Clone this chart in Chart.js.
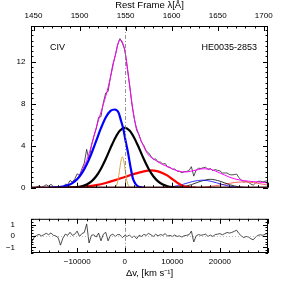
<!DOCTYPE html>
<html>
<head>
<meta charset="utf-8">
<script src="https://cdn.jsdelivr.net/npm/chart.js@4"></script>
<style>
  html, body { margin: 0; padding: 0; background: #fff; }
  #wrap { position: relative; width: 283px; height: 283px; }
  canvas { position: absolute; left: 0; }
  #top { top: 0; }
  #bot { top: 198px; }
</style>
</head>
<body>
<div id="wrap">
  <canvas id="top" width="283" height="198"></canvas>
  <canvas id="bot" width="283" height="85"></canvas>
</div>
<script>
// axis ranges
const vMin = -19700, vMax = 30100;
const fluxMax = 15.4;
const resMin = -1.5, resMax = 1.5;
const lambda0 = 1549.06;
const cKms = 299792.458;
const lineName = 'CIV';
const objectName = 'HE0035-2853';

// tick labels
const waveTicks = [1450, 1500, 1550, 1600, 1650, 1700];
const velTicks = [-10000, 0, 10000, 20000];
const fluxTicks = [0, 4, 8, 12];
const resTicks = [-1, 0, 1];

// observed spectrum and residuals (km/s grid, step 500)
const specV = [-20000,-19500,-19000,-18500,-18000,-17500,-17000,-16500,-16000,-15500,
  -15000,-14500,-14000,-13500,-13000,-12500,-12000,-11500,-11000,-10500,
  -10000,-9500,-9000,-8500,-8000,-7500,-7000,-6500,-6000,-5500,
  -5000,-4500,-4000,-3500,-3000,-2500,-2000,-1500,-1000,-500,
  0,500,1000,1500,2000,2500,3000,3500,4000,4500,
  5000,5500,6000,6500,7000,7500,8000,8500,9000,9500,
  10000,10500,11000,11500,12000,12500,13000,13500,14000,14500,
  15000,15500,16000,16500,17000,17500,18000,18500,19000,19500,
  20000,20500,21000,21500,22000,22500,23000,23500,24000,24500,
  25000,25500,26000,26500,27000,27500,28000,28500,29000,29500,30000];
const specF = [-0.13,-0.48,-0.08,0.08,0.16,0.04,0.14,0.28,0.15,0.32,
  0.11,0.07,-0.07,-0.71,-0.07,0.33,0.30,0.68,0.55,0.83,
  1.32,1.17,1.8,2.35,3.65,2.63,4.05,4.9,5.6,6.7,
  6.77,8.1,9.02,9.17,10.55,11.75,12.55,13.62,14.2,13.75,
  13.15,11.55,9.88,7.95,6.6,5.45,5.05,4.35,4.03,3.5,
  3.32,3.0,2.7,2.75,2.45,2.44,2.25,2.3,1.98,1.95,
  1.75,1.78,1.57,1.56,1.42,1.52,1.55,1.63,2.0,1.1,
  1.68,1.85,1.83,1.9,1.95,1.73,1.83,1.63,1.72,1.65,
  1.6,1.4,1.4,1.4,1.25,1.22,1.25,1.3,0.95,0.71,
  0.53,0.6,0.52,0.35,0.24,0.46,0.6,0.62,0.55,0.62,0.67];
const resid = [-0.15,-0.5,-0.1,0.05,0.13,0.0,0.1,0.23,0.1,0.26,
  0.05,0.0,-0.15,-0.81,-0.2,0.15,0.05,0.32,0.05,0.15,
  0.42,-0.05,0.2,0.3,1.05,-0.62,0.05,0.1,-0.1,0.25,
  -0.43,0.15,0.32,-0.43,0.05,0.15,-0.05,0.12,0.1,-0.15,
  0.05,-0.05,0.08,-0.15,0.0,-0.25,0.05,-0.05,0.13,0.05,
  0.22,0.1,-0.05,0.15,0.0,0.12,0.05,0.2,-0.02,0.05,
  -0.05,0.08,-0.05,0.0,-0.1,0.02,0.05,0.1,0.42,-0.53,
  0.0,0.12,0.05,0.1,0.15,-0.05,0.08,-0.05,0.12,0.15,
  0.2,0.1,0.2,0.3,0.25,0.3,0.4,0.5,0.2,0.0,
  -0.15,-0.05,-0.1,-0.25,-0.34,-0.1,0.05,0.1,0.05,0.15,0.22];

// total fit (magenta)
const fitV = [-20000,-19000,-18000,-17000,-16000,-15000,-14000,-13000,-12000,-11000,
  -10000,-9000,-8000,-7000,-6000,-5000,-4000,-3000,-2000,-1000,
  0,1000,2000,3000,4000,5000,6000,7000,8000,9000,
  10000,11000,12000,13000,14000,15000,16000,17000,18000,19000,
  20000,21000,22000,23000,24000,25000,26000,27000,28000,29000,30000];
const fitF = [0.02,0.02,0.03,0.04,0.05,0.06,0.08,0.13,0.25,0.5,
  0.9,1.6,2.6,4.0,5.7,7.2,8.7,10.5,12.6,14.1,
  13.1,9.8,6.6,5.0,3.9,3.1,2.75,2.45,2.2,2.0,
  1.8,1.62,1.52,1.5,1.58,1.68,1.78,1.8,1.75,1.6,
  1.4,1.2,1.0,0.85,0.75,0.68,0.62,0.58,0.55,0.5,0.45];

// fit components
const blueV = [-16000,-15000,-14000,-13000,-12000,-11000,-10000,-9000,-8000,-7000,-6000,-5000,-4000,-3000,-2100,-1300,-800,-300,200,700,1200,1700,2200,2700,3200,4200];
const blueF = [0,0.02,0.04,0.1,0.22,0.44,0.8,1.38,2.2,3.25,4.46,5.67,6.69,7.32,7.45,7.15,6.4,5.6,4.4,3.3,2.0,0.9,0.4,0.15,0.05,0];
const blackV = [-12000,-11000,-10000,-9000,-8000,-7000,-6000,-5000,-4000,-3000,-2000,-1000,0,1000,2000,3000,4000,5000,6000,7000,8000,9000,10000,11000,12000];
const blackF = [0,0.02,0.06,0.14,0.30,0.60,1.09,1.81,2.73,3.77,4.74,5.44,5.7,5.44,4.74,3.77,2.73,1.81,1.09,0.60,0.30,0.14,0.06,0.02,0];
const tanV = [-2500,-2000,-1750,-1500,-1250,-1000,-750,-500,-250,0,250,500,750,1000,1500];
const tanF = [0,0.07,0.22,0.56,1.16,1.95,2.66,2.95,2.66,1.95,1.16,0.56,0.22,0.07,0];
const redV = [-14000,-12000,-10000,-8000,-6000,-4000,-2000,0,2000,4000,5500,7000,8000,9000,10000,11000,12000,13000,14000,15000];
const redF = [0,0.02,0.06,0.13,0.25,0.45,0.72,1.02,1.32,1.56,1.65,1.55,1.38,1.15,0.82,0.48,0.22,0.08,0.02,0];
const thinBlueV = [6300,8300,10300,12300,14300,16300,18300,20300,22300,24300,26300];
const thinBlueF = [0,0.03,0.12,0.33,0.59,0.72,0.59,0.33,0.12,0.03,0];
const thinBlackV = [10000,12000,14000,16000,18000,20000,22000,24000,26000,28000];
const thinBlackF = [0.01,0.08,0.29,0.62,0.8,0.62,0.29,0.08,0.01,0];
const thinRedV = [13000,15000,17000,19000,21000,23000,25000,27000,29000,31000];
const thinRedF = [0,0.02,0.07,0.18,0.33,0.49,0.55,0.49,0.33,0.18];
const baseV = [-20000, 30000];
const baseF = [0, 0];

const systemicV = 0;

function toWave(v) { return lambda0 * (1 + v / cKms); }
function pts(xs, ys) { return xs.map((x, i) => ({ x: x, y: ys[i] })); }
function fmt(v) { return String(v).replace('-', '\u2212'); }
function fixTicks(list) { return s => { s.ticks = list.map(v => ({ value: v })); }; }

Chart.defaults.font.family = "'Liberation Sans', Arial, sans-serif";
Chart.defaults.color = '#000';

// box + inward ticks on every side
const frameTicks = {
  id: 'frameTicks',
  afterDatasetsDraw(chart, args, opts) {
    const ctx = chart.ctx, a = chart.chartArea;
    ctx.save();
    // reference lines
    const sx = chart.scales.x;
    const px = Math.round(sx.getPixelForValue(systemicV)) + 0.5;
    ctx.strokeStyle = '#777';
    ctx.lineWidth = 0.8;
    ctx.setLineDash([4, 2, 1, 2]);
    ctx.beginPath(); ctx.moveTo(px, a.top); ctx.lineTo(px, a.bottom); ctx.stroke();
    if (opts.zeroLine) {
      const py = Math.round(chart.scales.y.getPixelForValue(0)) + 0.5;
      ctx.strokeStyle = '#aaa';
      ctx.setLineDash([1, 2]);
      ctx.beginPath(); ctx.moveTo(a.left, py); ctx.lineTo(a.right, py); ctx.stroke();
    }
    ctx.setLineDash([]);
    ctx.strokeStyle = '#000';
    ctx.lineWidth = 1;
    ctx.strokeRect(a.left + 0.5, a.top + 0.5, a.right - a.left - 1, a.bottom - a.top - 1);
    opts.axes.forEach(ax => {
      const s = chart.scales[ax.id];
      const n0 = Math.ceil(s.min / ax.minor - 1e-9), n1 = Math.floor(s.max / ax.minor + 1e-9);
      for (let n = n0; n <= n1; n++) {
        const v = n * ax.minor;
        const r = v / ax.major;
        const len = Math.abs(r - Math.round(r)) < 1e-6 ? 5 : 2.5;
        const p = Math.round(s.getPixelForValue(v)) + 0.5;
        ctx.beginPath();
        ax.edges.forEach(e => {
          if (e === 'bottom') { ctx.moveTo(p, a.bottom); ctx.lineTo(p, a.bottom - len); }
          if (e === 'top') { ctx.moveTo(p, a.top); ctx.lineTo(p, a.top + len); }
          if (e === 'left') { ctx.moveTo(a.left, p); ctx.lineTo(a.left + len, p); }
          if (e === 'right') { ctx.moveTo(a.right, p); ctx.lineTo(a.right - len, p); }
        });
        ctx.stroke();
      }
    });
    if (opts.labels) {
      ctx.fillStyle = '#000';
      ctx.font = "9px 'Liberation Sans', Arial, sans-serif";
      ctx.textBaseline = 'middle';
      ctx.textAlign = 'left';
      ctx.fillText(lineName, 50, 48);
      ctx.textAlign = 'right';
      ctx.fillText(objectName, 257, 48);
    }
    ctx.restore();
  }
};

function line(data, color, width, order, smooth) {
  return {
    data: data, borderColor: color, borderWidth: width, pointRadius: 0,
    fill: false, order: order,
    cubicInterpolationMode: smooth ? 'monotone' : 'default', tension: 0
  };
}

new Chart(document.getElementById('top'), {
  type: 'line',
  data: {
    datasets: [
      line(pts(specV, specF), '#222', 0.8, 9, false),
      line(pts(fitV, fitF), '#ff00ff', 1, 8, true),
      line(pts(thinRedV, thinRedF), '#ff6060', 1, 7, true),
      line(pts(thinBlackV, thinBlackF), '#000', 0.8, 6, true),
      line(pts(thinBlueV, thinBlueF), '#0000ff', 0.8, 5, true),
      line(pts(redV, redF), '#ff0000', 2.2, 4, true),
      line(pts(tanV, tanF), '#d9a24a', 1, 3, true),
      line(pts(blackV, blackF), '#000', 2.2, 2, true),
      line(pts(blueV, blueF), '#0000ff', 2.2, 1, true),
      line(pts(baseV, baseF), '#800000', 2, 0, false)
    ]
  },
  options: {
    responsive: false, animation: false, devicePixelRatio: 1,
    layout: { padding: { left: 0, right: 15, top: 0, bottom: 1 } },
    plugins: {
      legend: { display: false }, tooltip: { enabled: false },
      frameTicks: {
        labels: true,
        axes: [
          { id: 'x', major: 10000, minor: 2000, edges: ['bottom'] },
          { id: 'x2', major: 50, minor: 10, edges: ['top'] },
          { id: 'y', major: 4, minor: 0.5, edges: ['left', 'right'] }
        ]
      }
    },
    scales: {
      x: { type: 'linear', min: vMin, max: vMax, display: false },
      x2: {
        type: 'linear', position: 'top', min: toWave(vMin), max: toWave(vMax),
        grid: { display: false, drawTicks: false }, border: { display: false },
        ticks: { padding: 5, font: { size: 8 }, maxRotation: 0, autoSkip: false, callback: v => fmt(v) },
        afterBuildTicks: fixTicks(waveTicks),
        title: { display: true, text: 'Rest Frame \u03bb[\u00c5]', font: { size: 9.5 }, padding: { top: 0, bottom: 0 } },
        afterFit(s) { s.height = 26; }
      },
      y: {
        min: 0, max: fluxMax,
        grid: { display: false, drawTicks: false }, border: { display: false },
        ticks: { padding: 5.5, font: { size: 8 }, callback: v => fmt(v) },
        afterBuildTicks: fixTicks(fluxTicks),
        afterFit(s) { s.width = 31; }
      }
    }
  },
  plugins: [frameTicks]
});

new Chart(document.getElementById('bot'), {
  type: 'line',
  data: {
    datasets: [ line(pts(specV, resid), '#222', 0.8, 0, false) ]
  },
  options: {
    responsive: false, animation: false, devicePixelRatio: 1,
    layout: { padding: { left: 0, right: 15, top: 2, bottom: 0 } },
    plugins: {
      legend: { display: false }, tooltip: { enabled: false },
      frameTicks: {
        zeroLine: true,
        axes: [
          { id: 'x', major: 10000, minor: 2000, edges: ['bottom', 'top'] },
          { id: 'y', major: 1, minor: 0.25, edges: ['left', 'right'] }
        ]
      }
    },
    scales: {
      x: {
        type: 'linear', min: vMin, max: vMax,
        grid: { display: false, drawTicks: false }, border: { display: false },
        ticks: { padding: 4, font: { size: 8 }, maxRotation: 0, autoSkip: false, callback: v => fmt(v) },
        afterBuildTicks: fixTicks(velTicks),
        title: { display: true, text: '\u0394v, [km s\u207b\u00b9]', font: { size: 9.5 }, padding: { top: 0, bottom: 4 } },
        afterFit(s) { s.height = 30; }
      },
      y: {
        min: resMin, max: resMax,
        grid: { display: false, drawTicks: false }, border: { display: false },
        ticks: { padding: 16, font: { size: 8 }, callback: v => fmt(v) },
        afterBuildTicks: fixTicks(resTicks),
        afterFit(s) { s.width = 31; }
      }
    }
  },
  plugins: [frameTicks]
});
</script>
</body>
</html>
